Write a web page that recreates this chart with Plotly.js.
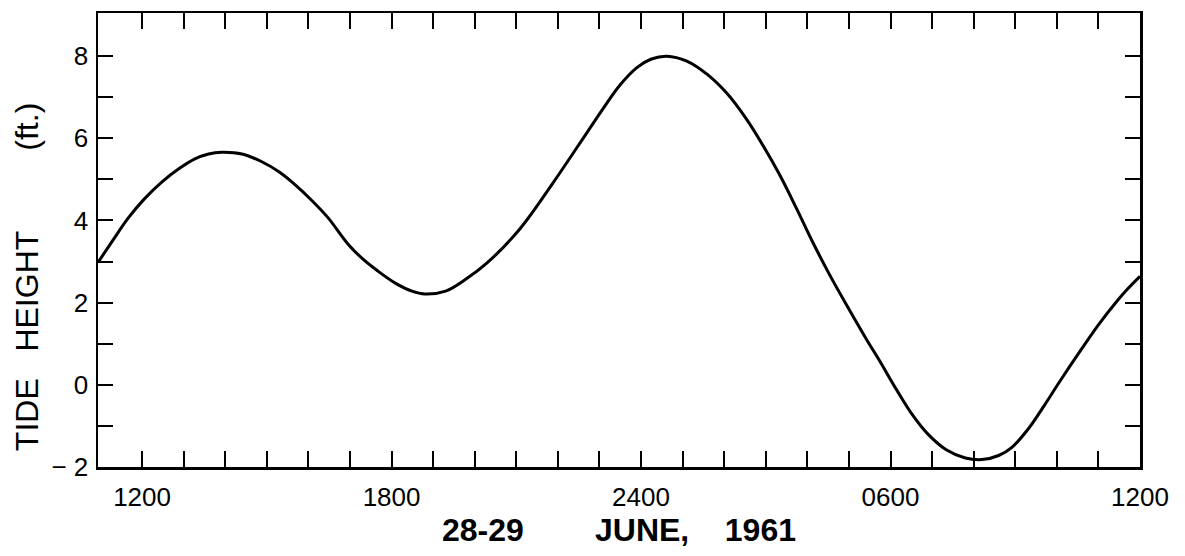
<!DOCTYPE html>
<html>
<head>
<meta charset="utf-8">
<script src="https://cdn.plot.ly/plotly-3.0.1.min.js"></script>
<style>html,body{margin:0;padding:0;background:#fff;}#chart{width:1185px;height:556px;}</style>
</head>
<body>
<div id="chart"></div>
<script>
// Hours since 0000 on 28 June 1961 (24 = midnight, 36 = 1200 on 29 June)
const hours = [10.94, 11.3, 11.66, 12.05, 12.48, 12.9, 13.27, 13.6, 13.92, 14.4, 14.88, 15.3, 15.67, 16.07, 16.47, 16.95, 17.3, 17.67, 18.1, 18.49, 18.8, 19.3, 19.8, 20.29, 21.09, 21.88, 22.70, 23.1, 23.49, 23.90, 24.25, 24.62, 25.10, 25.6, 26.06, 26.54, 26.93, 27.34, 27.75, 28.13, 28.54, 28.95, 29.42, 29.74, 30.14, 30.52, 30.9, 31.34, 31.8, 32.2, 32.6, 32.92, 33.33, 33.7, 34.05, 34.6, 35.0, 35.4, 35.7, 36.0];
// Tide height (ft.)
const tideHeight = [2.98, 3.52, 4.05, 4.52, 4.94, 5.27, 5.50, 5.62, 5.66, 5.62, 5.43, 5.18, 4.88, 4.50, 4.07, 3.43, 3.07, 2.77, 2.47, 2.28, 2.21, 2.28, 2.58, 2.96, 3.80, 4.91, 6.14, 6.74, 7.29, 7.72, 7.93, 8.00, 7.88, 7.55, 7.10, 6.46, 5.83, 5.10, 4.27, 3.47, 2.67, 1.93, 1.11, 0.58, -0.11, -0.72, -1.20, -1.58, -1.78, -1.82, -1.72, -1.52, -1.05, -0.50, 0.05, 0.88, 1.46, 1.98, 2.33, 2.64];

const xTickVals = [12,13,14,15,16,17,18,19,20,21,22,23,24,25,26,27,28,29,30,31,32,33,34,35,36];
const xTickText = ['1200','','','','','','1800','','','','','','2400','','','','','','0600','','','','','','1200'];
const yTickVals = [-2,-1,0,1,2,3,4,5,6,7,8];
const yTickText = ['\u2212 2','','0','','2','','4','','6','','8'];

const NB = '\u00a0';
const xTitle = '28-29' + NB.repeat(8) + 'JUNE,' + NB.repeat(4) + '1961';
const yTitle = 'TIDE' + NB.repeat(3) + 'HEIGHT' + NB.repeat(9) + '(ft.)';

const trace = {
  x: hours, y: tideHeight, type: 'scatter', mode: 'lines',
  line: {color: '#000', width: 3, shape: 'spline', smoothing: 1},
  hoverinfo: 'skip'
};

const fam = 'Liberation Sans, Arial, sans-serif';
const tickFont = {family: fam, size: 26, color: '#000'};

const layout = {
  width: 1185, height: 556,
  margin: {l: 98, r: 45, t: 13, b: 89},
  paper_bgcolor: '#fff', plot_bgcolor: '#fff',
  showlegend: false,
  xaxis: {
    range: [10.94, 36.0], tickmode: 'array', tickvals: xTickVals, ticktext: xTickText,
    ticks: 'inside', ticklen: 16, tickwidth: 2, tickcolor: '#000',
    showline: true, linewidth: 2.5, linecolor: '#000', mirror: 'ticks',
    showgrid: false, zeroline: false, tickfont: tickFont, ticklabelstandoff: 5,
    title: {text: xTitle, standoff: 7, font: {family: fam, size: 32, weight: 'bold', color: '#000'}}
  },
  yaxis: {
    range: [-2, 9.05], tickmode: 'array', tickvals: yTickVals, ticktext: yTickText,
    ticks: 'inside', ticklen: 15, tickwidth: 2, tickcolor: '#000',
    showline: true, linewidth: 2.5, linecolor: '#000', mirror: 'ticks',
    showgrid: false, zeroline: false, tickfont: tickFont, ticklabelstandoff: 2
  },
  annotations: [{
    text: yTitle, textangle: -90, showarrow: false,
    xref: 'paper', yref: 'paper', x: -0.068, y: 0.4185,
    xanchor: 'center', yanchor: 'middle',
    font: {family: fam, size: 32, color: '#000'}
  }]
};

Plotly.newPlot('chart', [trace], layout, {displayModeBar: false, staticPlot: true});
</script>
</body>
</html>
